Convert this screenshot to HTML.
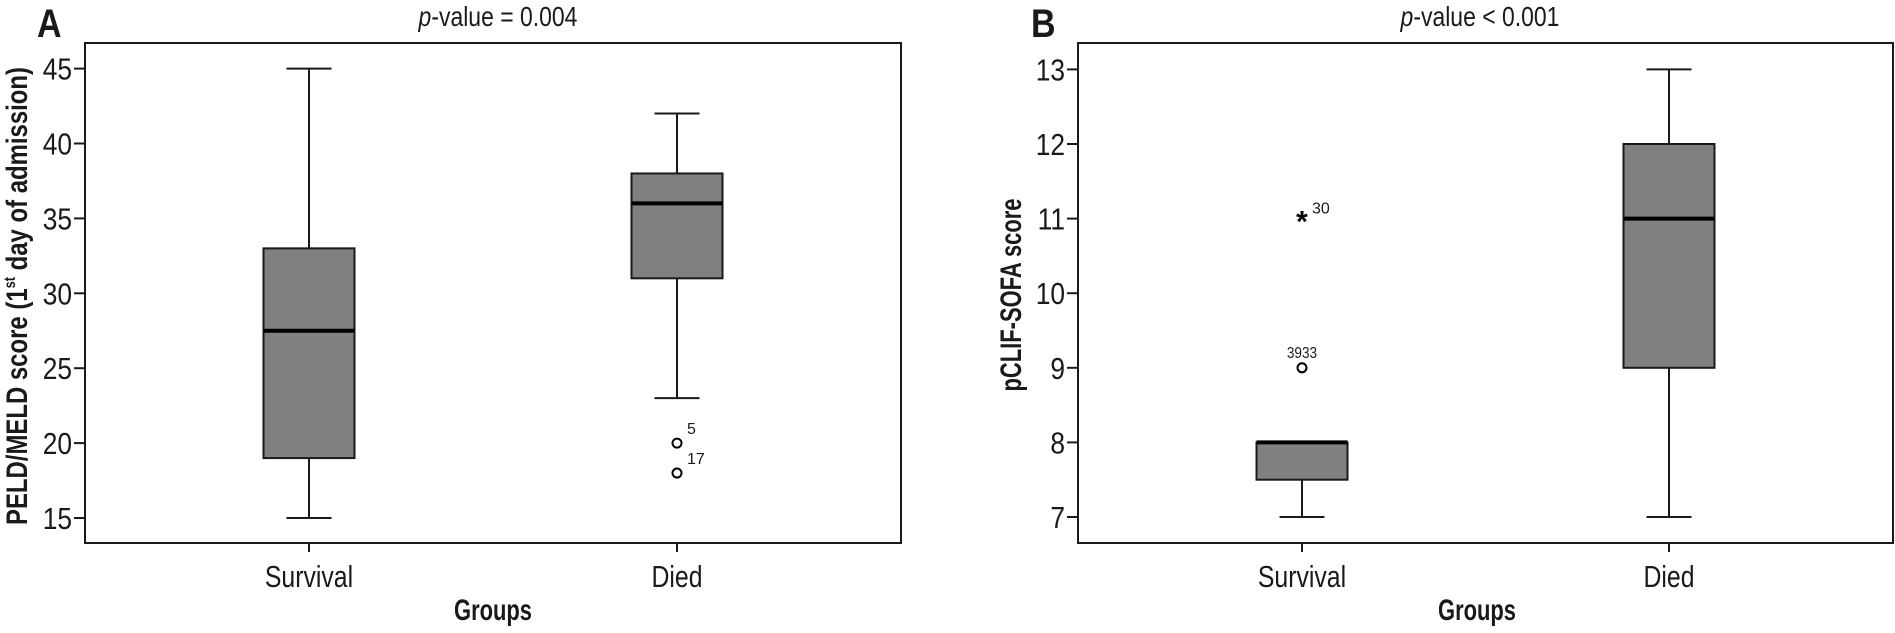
<!DOCTYPE html>
<html><head><meta charset="utf-8"><style>
html,body{margin:0;padding:0;background:#fff;}
svg{display:block;font-family:"Liberation Sans",sans-serif;}
</style></head><body>
<svg id="chart" width="1895" height="633" viewBox="0 0 1895 633"></svg>
<script>
// Panel A data
const groupsA = ["Survival","Died"];
const minA = [15, 23];
const q1A = [19, 31];
const medA = [27.5, 36];
const q3A = [33, 38];
const maxA = [45, 42];
const outliersA = [[], [20, 18]];
const outlierLabelsA = [[], ["5", "17"]];
const outlierTypeA = [[], ["o", "o"]];
const ticksA = [15, 20, 25, 30, 35, 40, 45];
// Panel B data
const groupsB = ["Survival","Died"];
const minB = [7, 7];
const q1B = [7.5, 9];
const medB = [8, 11];
const q3B = [8, 12];
const maxB = [7.5, 13];
const outliersB = [[9, 11], []];
const outlierLabelsB = [["3933", "30"], []];
const outlierTypeB = [["o", "*"], []];
const ticksB = [7, 8, 9, 10, 11, 12, 13];

const NS = "http://www.w3.org/2000/svg";
const svg = document.getElementById('chart');
function mk(tag, attrs, parent, text) {
  const e = document.createElementNS(NS, tag);
  for (const k in attrs) e.setAttribute(k, attrs[k]);
  if (text !== undefined) e.textContent = text;
  (parent || svg).appendChild(e);
  return e;
}

function panel(cfg) {
  const g = mk('g', {});
  
  
  const L = cfg.left, R = cfg.right, T = 43, B = 543;
  const vmin = cfg.ticks[0], vmax = cfg.ticks[cfg.ticks.length - 1];
  const y = v => cfg.yTop + (vmax - v) / (vmax - vmin) * (cfg.yBot - cfg.yTop);
  const frame = mk('rect', {x: L, y: T, width: R - L, height: B - T, fill: 'none', stroke: '#1a1a1a', 'stroke-width': 2}, g);
  
  
  // y ticks
  cfg.ticks.forEach(t => {
    const ln = mk('line', {x1: L - 11, x2: L, y1: y(t), y2: y(t), stroke: '#1a1a1a', 'stroke-width': 2}, g);
    
    
    const tx = mk('text', {x: L - 13, y: y(t) + 11, 'text-anchor': 'end', 'font-size': 31, fill: '#1a1a1a', transform: `translate(${L-13},0) scale(0.85,1) translate(${-(L-13)},0)`}, g, String(t));
    
    
  });
  cfg.groups.forEach((name, i) => {
    const cx = cfg.centers[i];
    const bw = 91, cw = 45;
    // x tick + label
    const xt = mk('line', {x1: cx, x2: cx, y1: B, y2: B + 9, stroke: '#1a1a1a', 'stroke-width': 2}, g);
    
    
    const xl = mk('text', {x: cx, y: 587, 'text-anchor': 'middle', 'font-size': 31, fill: '#1a1a1a', transform: `translate(${cx},0) scale(0.8,1) translate(${-cx},0)`}, g, name);
    
    
    // whiskers
    if (cfg.max[i] > cfg.q3[i]) {
      const w1 = mk('line', {x1: cx, x2: cx, y1: y(cfg.max[i]), y2: y(cfg.q3[i]), stroke: '#1a1a1a', 'stroke-width': 2}, g);
      
      
      const c1 = mk('line', {x1: cx - cw/2, x2: cx + cw/2, y1: y(cfg.max[i]), y2: y(cfg.max[i]), stroke: '#1a1a1a', 'stroke-width': 2}, g);
      
      
    }
    if (cfg.min[i] < cfg.q1[i]) {
      const w2 = mk('line', {x1: cx, x2: cx, y1: y(cfg.q1[i]), y2: y(cfg.min[i]), stroke: '#1a1a1a', 'stroke-width': 2}, g);
      
      
      const c2 = mk('line', {x1: cx - cw/2, x2: cx + cw/2, y1: y(cfg.min[i]), y2: y(cfg.min[i]), stroke: '#1a1a1a', 'stroke-width': 2}, g);
      
      
    }
    const box = mk('rect', {x: cx - bw/2, y: y(cfg.q3[i]), width: bw, height: y(cfg.q1[i]) - y(cfg.q3[i]), fill: '#808080', stroke: '#1a1a1a', 'stroke-width': 2}, g);
    
    
    const md = mk('line', {x1: cx - bw/2, x2: cx + bw/2, y1: y(cfg.med[i]), y2: y(cfg.med[i]), stroke: '#000', 'stroke-width': 4}, g);
    
    
    cfg.out[i].forEach((v, j) => {
      const oy = y(v);
      const lbl = cfg.outLbl[i][j];
      if (cfg.outType[i][j] === '*') {
        const st = mk('text', {x: cx, y: oy + 13, 'text-anchor': 'middle', 'font-size': 30, 'font-weight': 'bold', fill: '#000'}, g, '*');
        
        
        const lt = mk('text', {x: cx + 10, y: oy - 5, 'font-size': 16, fill: '#1a1a1a'}, g, lbl);
        
        
      } else {
        const c = mk('circle', {cx: cx, cy: oy, r: 4.5, fill: 'none', stroke: '#000', 'stroke-width': 2}, g);
        
        
        const above = cfg.labelAbove;
        const lt = above
          ? mk('text', {x: cx, y: oy - 10, 'text-anchor': 'middle', 'font-size': 16, fill: '#1a1a1a', transform: `translate(${cx},0) scale(0.85,1) translate(${-cx},0)`}, g, lbl)
          : mk('text', {x: cx + 10, y: oy - 9, 'font-size': 16, fill: '#1a1a1a'}, g, lbl);
        
        
      }
    });
  });
  const gx = mk('text', {x: cfg.groupsX, y: 620, 'text-anchor': 'middle', 'font-size': 30, 'font-weight': 'bold', fill: '#1a1a1a', textLength: 78, lengthAdjust: 'spacingAndGlyphs'}, g, 'Groups');
  
  
  const yt = mk('text', {x: 0, y: 0, 'text-anchor': 'middle', 'font-size': 30, 'font-weight': 'bold', fill: '#1a1a1a', textLength: cfg.ytLen, lengthAdjust: 'spacingAndGlyphs', transform: `translate(${cfg.ytX},${cfg.ytY}) rotate(-90)`}, g);
  
  
  cfg.ytParts.forEach(p => {
    const ts = mk('tspan', p.sup ? {'font-size': 16, dy: -12} : (p.after ? {dy: 12} : {}), yt, p.t);
  });
  const pl = mk('text', {x: cfg.panelX, y: 37, 'font-size': 40, 'font-weight': 'bold', fill: '#1a1a1a', transform: `translate(${cfg.panelX},0) scale(0.85,1) translate(${-cfg.panelX},0)`}, g, cfg.letter);
  
  
  const ti = mk('text', {x: cfg.titleX, y: 26, 'text-anchor': 'middle', 'font-size': 28, fill: '#1a1a1a', transform: `translate(${cfg.titleX},0) scale(0.82,1) translate(${-cfg.titleX},0)`}, g);
  
  
  mk('tspan', {'font-style': 'italic'}, ti, 'p');
  mk('tspan', {}, ti, cfg.title);
}

panel({name: 'panel-a', letter: 'A', panelX: 37, left: 85, right: 901, yTop: 68.6, yBot: 518,
  ticks: ticksA, groups: groupsA, centers: [309, 677], min: minA, q1: q1A, med: medA, q3: q3A, max: maxA,
  out: outliersA, outLbl: outlierLabelsA, outType: outlierTypeA, labelAbove: false,
  groupsX: 493, titleX: 498, title: '-value = 0.004',
  ytX: 27, ytY: 296, ytLen: 458,
  ytParts: [{t: 'PELD/MELD score (1'}, {t: 'st', sup: true}, {t: ' day of admission)', after: true}]});

panel({name: 'panel-b', letter: 'B', panelX: 1031, left: 1078, right: 1893, yTop: 69.4, yBot: 517,
  ticks: ticksB, groups: groupsB, centers: [1302, 1669], min: minB, q1: q1B, med: medB, q3: q3B, max: maxB,
  out: outliersB, outLbl: outlierLabelsB, outType: outlierTypeB, labelAbove: true,
  groupsX: 1477, titleX: 1480, title: '-value < 0.001',
  ytX: 1021, ytY: 295, ytLen: 193,
  ytParts: [{t: 'pCLIF-SOFA score'}]});
</script>
</body></html>
